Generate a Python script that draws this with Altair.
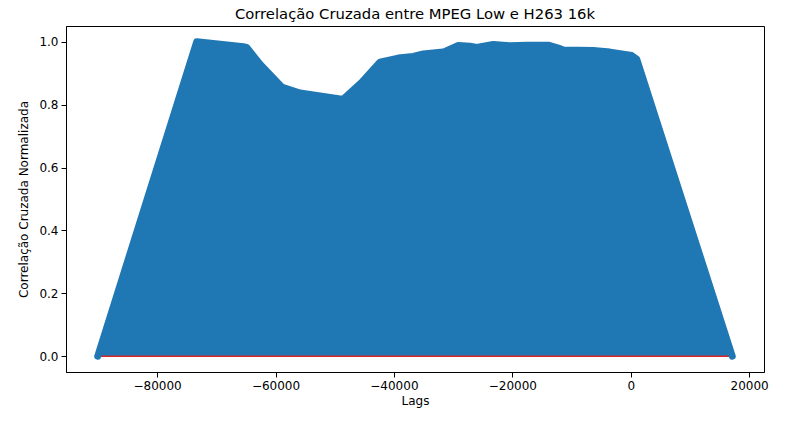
import altair as alt
import pandas as pd

# Envelope of the stem plot (lag, normalized cross-correlation)
lags = [-90031, -73311, -65440, -64865, -62618, -58953, -55861, -49105, -48548,
        -45440, -42348, -39257, -36723, -35034, -31655, -29122, -27145, -26014,
        -23209, -20389, -17568, -13919, -12230, -11385, -6318, -3497, 169, 1013, 17157]
values = [0.0, 1.0, 0.984, 0.982, 0.929, 0.856, 0.837, 0.818, 0.818,
          0.871, 0.935, 0.948, 0.953, 0.961, 0.967, 0.988, 0.986, 0.982,
          0.991, 0.987, 0.989, 0.989, 0.980, 0.974, 0.972, 0.967, 0.956, 0.945, 0.0]

x_ticks = [-80000, -60000, -40000, -20000, 0, 20000]
y_ticks = [0.0, 0.2, 0.4, 0.6, 0.8, 1.0]

df = pd.DataFrame({"lag": lags, "corr": values})
base_df = pd.DataFrame({"x0": [lags[0]], "x1": [lags[-1]], "y": [0.0]})

BLUE = "#1f77b4"
RED = "#d62728"

xscale = alt.Scale(domain=[-95390, 22517], nice=False, zero=False)
yscale = alt.Scale(domain=[-0.05, 1.05], nice=False, zero=False)

x_enc = alt.X("lag:Q", scale=xscale, title="Lags",
              axis=alt.Axis(values=x_ticks, format="d", grid=False))
y_enc = alt.Y("corr:Q", scale=yscale, title="Correlação Cruzada Normalizada",
              axis=alt.Axis(values=y_ticks, format=".1f", grid=False))

area = alt.Chart(df).mark_area(color=BLUE, opacity=1).encode(x=x_enc, y=y_enc)

baseline = alt.Chart(base_df).mark_rule(color=RED, strokeWidth=1.6).encode(
    x=alt.X("x0:Q", scale=xscale), x2="x1:Q", y=alt.Y("y:Q", scale=yscale))

outline = alt.Chart(df).mark_line(color=BLUE, strokeWidth=7, strokeCap="round",
                                  strokeJoin="round").encode(x=x_enc, y=y_enc)

chart = (
    alt.layer(area, baseline, outline)
    .properties(
        width=698, height=346,
        title=alt.TitleParams("Correlação Cruzada entre MPEG Low e H263 16k",
                              fontSize=14.8, fontWeight="normal", font="DejaVu Sans",
                              color="black", anchor="middle", offset=4),
        padding={"left": 58, "top": 18, "right": 20, "bottom": 45},
        autosize=alt.AutoSizeParams(type="none"),
    )
    .configure_view(stroke="black", strokeWidth=1)
    .configure_axis(
        domainColor="black", tickColor="black", labelColor="black",
        titleColor="black", labelFont="DejaVu Sans", titleFont="DejaVu Sans",
        labelFontSize=12, titleFontSize=12, titleFontWeight="normal",
        tickSize=5, labelPadding=3,
    )
    .configure_axisX(titlePadding=4)
    .configure_axisY(titlePadding=8)
)

chart.save("out.html", embed_options={"renderer": "svg", "actions": False})
